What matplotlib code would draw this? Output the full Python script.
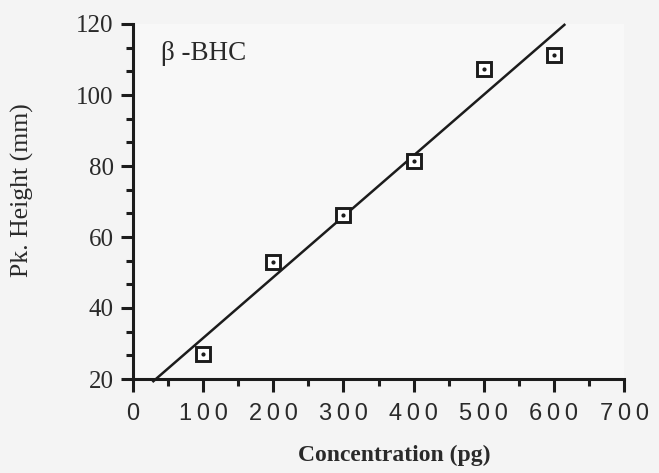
import numpy as np
import matplotlib
matplotlib.use("Agg")
import matplotlib.pyplot as plt
from matplotlib.ticker import MultipleLocator, FixedLocator

# Calibration data for beta-BHC
concentration = [100, 200, 300, 400, 500, 600]          # pg
peak_height = [27.0, 53.0, 66.2, 81.4, 107.3, 111.3]   # mm
fit_range = [29, 615]                                   # extent of the drawn fit line (pg)
x_ticks = [0, 100, 200, 300, 400, 500, 600, 700]
y_ticks = [20, 40, 60, 80, 100, 120]
compound = "\u03b2 -BHC"

ink = "#1c1c1c"
serif = ["Liberation Serif", "DejaVu Serif"]
sans = ["Liberation Sans", "DejaVu Sans"]

fig = plt.figure(figsize=(6.59, 4.73), dpi=100, facecolor="#f4f4f4")
ax = fig.add_axes([133 / 659, 1 - 379 / 473, (624 - 133) / 659, (379 - 24) / 473])
ax.set_facecolor("#f8f8f8")

ax.set_xlim(0, 700)
ax.set_ylim(20, 120)

# least-squares calibration line
slope, intercept = np.polyfit(concentration, peak_height, 1)
fx = np.array(fit_range, dtype=float)
ax.plot(fx, slope * fx + intercept, color=ink, lw=1.8, clip_on=False, zorder=2)

# data points: open squares with a centre dot
ax.plot(concentration, peak_height, ls="none", marker="s", ms=9.5, mfc="white",
        mec=ink, mew=2.1, zorder=3)
ax.plot(concentration, peak_height, ls="none", marker="o", ms=2.0, mfc=ink,
        mec=ink, zorder=4)

for side in ("top", "right"):
    ax.spines[side].set_visible(False)
for side in ("left", "bottom"):
    ax.spines[side].set_linewidth(2.2)
    ax.spines[side].set_color(ink)

ax.xaxis.set_major_locator(FixedLocator(x_ticks))
ax.xaxis.set_minor_locator(MultipleLocator(50))
ax.yaxis.set_major_locator(FixedLocator(y_ticks))
ax.yaxis.set_minor_locator(MultipleLocator(20 / 3))

ax.tick_params(axis="both", which="major", direction="out", length=9, width=2.2, color=ink)
ax.tick_params(axis="both", which="minor", direction="out", length=5, width=2.2, color=ink)

ax.set_xticklabels(["\u2009".join(str(v)) for v in x_ticks], fontfamily=sans,
                   fontsize=17, color="#2a2a2a")
ax.set_yticklabels([str(v) for v in y_ticks], fontfamily=serif, fontsize=18,
                   color="#2a2a2a")
ax.tick_params(axis="x", pad=8)
ax.tick_params(axis="y", pad=5)

ax.text(40, 111.8, compound, fontfamily=serif, fontsize=19.5, color="#2a2a2a",
        ha="left", va="center")

fig.text(394 / 659, 1 - 455 / 473, "Concentration (pg)", fontfamily=serif,
         fontsize=17, fontweight="bold", color="#2a2a2a", ha="center", va="center")
fig.text(22 / 659, 1 - 190 / 473, "Pk. Height (mm)", fontfamily=serif,
         fontsize=18.5, color="#2a2a2a", ha="center", va="center", rotation=90)

fig.savefig("out.png", dpi=100, facecolor=fig.get_facecolor())
